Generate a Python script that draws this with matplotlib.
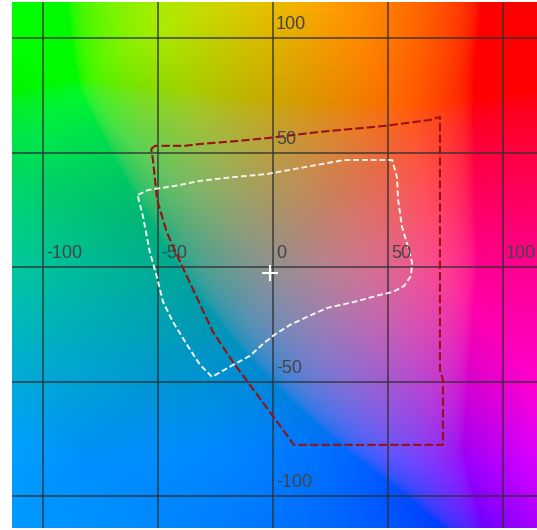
import numpy as np
import matplotlib
matplotlib.use("Agg")
import matplotlib.pyplot as plt

# a*/b* window shown
a_lim = (-113.3, 115.0)
b_lim = (-113.8, 115.9)

ticks = [-100, -50, 0, 50, 100]
tick_labels = ['-100', '-50', '0', '50', '100']

# device gamut outline (dark red)
red_a = [-52.8, -51.1, -38.0, -31.5, -15.4, -1.1, 20.7, 48.9, 68.5, 72.8,
         72.8, 74.1, 74.1, 9.3, -2.4, -17.2, -25.9, -40.2, -45.9, -50.2, -52.0]
red_b = [51.7, 53.1, 53.1, 53.9, 55.2, 56.6, 59.2, 61.8, 64.4, 65.7,
         -44.8, -49.1, -77.5, -77.5, -61.4, -41.3, -28.2, 2.4, 15.1, 29.5, 46.9]

# image gamut outline (white)
white_a = [-58.5, -54.1, -42.4, -31.5, -16.3, -2.4, 12.0, 31.1, 52.0, 54.1,
           54.6, 56.3, 58.9, 60.7, 60.2, 57.2, 52.4, 46.7, 35.4, 23.7,
           15.0, 7.6, 0.7, -4.6, -9.8, -17.2, -26.3, -31.5, -37.2, -43.3,
           -47.6, -50.2, -52.0, -53.3, -56.3, -58.5]
white_b = [31.7, 33.8, 35.6, 37.8, 39.5, 40.8, 43.4, 46.9, 46.9, 39.5,
           29.5, 17.7, 9.0, 2.0, -3.7, -8.1, -10.7, -12.0, -15.1, -17.7,
           -21.6, -25.1, -29.5, -33.8, -38.6, -42.6, -47.8, -42.6, -33.8, -23.8,
           -15.1, -4.6, 2.0, 6.3, 22.1, 30.8]

white_point = (-1.0, -2.3)

# lightness used for the background, per hue angle (deg)
hue_deg = [0, 45, 90, 115, 138, 160, 180, 225, 270, 315, 360]
hue_L = [58, 60, 78, 86, 86, 72, 66, 46, 42, 44, 58]


def lab_to_srgb(L, a, b):
    fy = (L + 16.0) / 116.0
    fx = fy + a / 500.0
    fz = fy - b / 200.0
    d = 6.0 / 29.0

    def finv(t):
        return np.where(t > d, t ** 3, 3 * d ** 2 * (t - 4.0 / 29.0))

    X = 0.9505 * finv(fx)
    Y = finv(fy)
    Z = 1.089 * finv(fz)
    r = 3.2406 * X - 1.5372 * Y - 0.4986 * Z
    g = -0.9689 * X + 1.8758 * Y + 0.0415 * Z
    bl = 0.0557 * X - 0.2040 * Y + 1.0570 * Z
    rgb = np.clip(np.stack([r, g, bl], axis=-1), 0, 1)
    return np.where(rgb <= 0.0031308, 12.92 * rgb, 1.055 * rgb ** (1 / 2.4) - 0.055)


# colour field of the a*b* plane
aa, bb = np.meshgrid(np.linspace(a_lim[0], a_lim[1], 500),
                     np.linspace(b_lim[0], b_lim[1], 500))
hue = np.degrees(np.arctan2(bb, aa)) % 360
chroma = np.hypot(aa, bb)
weight = np.clip(chroma / 115, 0, 1) ** 1.3
LL = 60 + (np.interp(hue, hue_deg, hue_L) - 60) * weight
field = lab_to_srgb(LL, aa, bb)

fig = plt.figure(figsize=(5.37, 5.30), dpi=100)
ax = fig.add_axes([12 / 537, 2 / 530, 525 / 537, 526 / 530])
ax.imshow(field, extent=[a_lim[0], a_lim[1], b_lim[0], b_lim[1]],
          origin='lower', interpolation='bilinear', aspect='auto')

for t in ticks:
    ax.axvline(t, color='#303030', lw=1.3, alpha=0.75)
    ax.axhline(t, color='#303030', lw=1.3, alpha=0.75)

for t, lab in zip(ticks, tick_labels):
    ax.text(t + 1.5, 2.3, lab, ha='left', va='bottom', fontsize=13,
            color='#454545', family='Liberation Sans')
    if t != 0:
        ax.text(1.5, t + 2.3, lab, ha='left', va='bottom', fontsize=13,
                color='#454545', family='Liberation Sans')

ax.plot(red_a + red_a[:1], red_b + red_b[:1], color='#9b1010', lw=1.5,
        dashes=(4, 1.5))
ax.plot(white_a + white_a[:1], white_b + white_b[:1], color='#f4f4ec', lw=1.4,
        dashes=(3, 1.5))
ax.plot(*white_point, marker='+', color='white', ms=11, mew=1.5)

ax.set_xlim(a_lim)
ax.set_ylim(b_lim)
ax.axis('off')

fig.savefig('out.png', dpi=100)
